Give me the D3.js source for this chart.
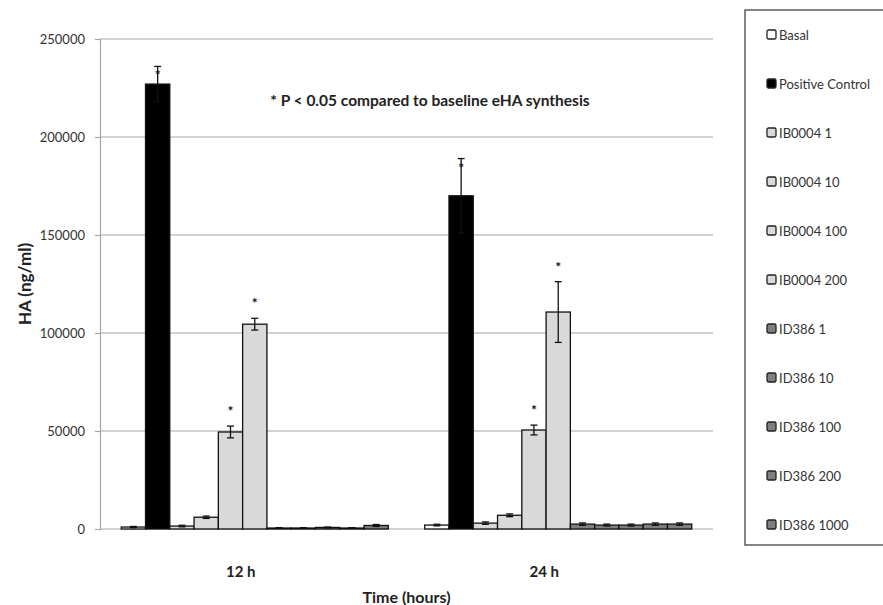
<!DOCTYPE html>
<html>
<head>
<meta charset="utf-8">
<script src="https://cdn.jsdelivr.net/npm/d3@7"></script>
<style>
  body { margin: 0; background: #fff; }
  text { font-family: Lato, "Open Sans", sans-serif; }
</style>
</head>
<body>
<div id="chart"></div>
<script>
// categories and series
var times = ["12 h", "24 h"];
var series = ["Basal", "Positive Control", "IB0004 1", "IB0004 10", "IB0004 100", "IB0004 200",
              "ID386 1", "ID386 10", "ID386 100", "ID386 200", "ID386 1000"];
var fills = ["#ffffff", "#000000", "#d9d9d9", "#d9d9d9", "#d9d9d9", "#d9d9d9",
             "#7f7f7f", "#7f7f7f", "#7f7f7f", "#7f7f7f", "#7f7f7f"];

// HA (ng/ml) values, per series: [12 h, 24 h]
var values12 = [1000, 227000, 1500, 6000, 49500, 104500, 500, 500, 800, 500, 1800];
var values24 = [2000, 170000, 3000, 7000, 50500, 110700, 2500, 2000, 2000, 2500, 2500];
var errors12 = [300, 9000, 400, 600, 3000, 3000, 200, 200, 200, 200, 500];
var errors24 = [400, 19000, 600, 700, 2500, 15500, 600, 500, 500, 600, 600];
// which bars carry a significance star
var stars12 = [false, true, false, false, true, true, false, false, false, false, false];
var stars24 = [false, true, false, false, true, true, false, false, false, false, false];

var yTicks = [0, 50000, 100000, 150000, 200000, 250000];

var width = 883, height = 605;
var margin = {top: 39, right: 170, bottom: 76, left: 100};
var plotW = width - margin.left - margin.right;
var plotH = height - margin.top - margin.bottom;

var svg = d3.select("#chart").append("svg")
  .attr("width", width)
  .attr("height", height);

var g = svg.append("g")
  .attr("transform", "translate(" + margin.left + "," + margin.top + ")");

var y = d3.scaleLinear().domain([0, 250000]).range([plotH, 0]);
var x0 = d3.scaleBand().domain(times).range([0, plotW]).paddingInner(0.12).paddingOuter(0.07);
var x1 = d3.scaleBand().domain(series).range([0, x0.bandwidth()]);

// gridlines
g.append("g").selectAll("line")
  .data(yTicks)
  .enter().append("line")
  .attr("x1", 0)
  .attr("x2", plotW)
  .attr("y1", function(d) { return y(d); })
  .attr("y2", function(d) { return y(d); })
  .style("stroke", "#a6a6a6")
  .style("stroke-width", 1.2);

// y axis
var yAxis = g.append("g")
  .call(d3.axisLeft(y).tickValues(yTicks).tickSize(5).tickPadding(10).tickFormat(d3.format("d")));
yAxis.select(".domain").style("stroke", "#a6a6a6").style("stroke-width", 1.2);
yAxis.selectAll(".tick line").style("stroke", "#a6a6a6").style("stroke-width", 1.2);
yAxis.selectAll(".tick text")
  .style("font-family", "Lato, sans-serif")
  .style("font-size", "13px")
  .attr("fill", "#333");

var rows = times.map(function(t, i) {
  var vals = i == 0 ? values12 : values24;
  var errs = i == 0 ? errors12 : errors24;
  var st = i == 0 ? stars12 : stars24;
  return series.map(function(s, j) {
    return {time: t, series: s, value: vals[j], err: errs[j], star: st[j], fill: fills[j]};
  });
});

var groups = g.selectAll(".grp")
  .data(rows)
  .enter().append("g")
  .attr("class", "grp")
  .attr("transform", function(d, i) { return "translate(" + x0(times[i]) + ",0)"; });

groups.selectAll("rect")
  .data(function(d) { return d; })
  .enter().append("rect")
  .attr("x", function(d) { return x1(d.series); })
  .attr("y", function(d) { return y(d.value); })
  .attr("width", x1.bandwidth())
  .attr("height", function(d) { return plotH - y(d.value); })
  .attr("fill", function(d) { return d.fill; })
  .style("stroke", "#111")
  .style("stroke-width", 1.3);

// error bars
var eb = groups.selectAll(".err")
  .data(function(d) { return d; })
  .enter().append("g")
  .attr("class", "err");

eb.append("line")
  .attr("x1", function(d) { return x1(d.series) + x1.bandwidth() / 2; })
  .attr("x2", function(d) { return x1(d.series) + x1.bandwidth() / 2; })
  .attr("y1", function(d) { return y(d.value - d.err); })
  .attr("y2", function(d) { return y(d.value + d.err); })
  .style("stroke", "#111")
  .style("stroke-width", 1.3);

[-1, 1].forEach(function(s) {
  eb.append("line")
    .attr("x1", function(d) { return x1(d.series) + x1.bandwidth() / 2 - 3.5; })
    .attr("x2", function(d) { return x1(d.series) + x1.bandwidth() / 2 + 3.5; })
    .attr("y1", function(d) { return y(d.value + s * d.err); })
    .attr("y2", function(d) { return y(d.value + s * d.err); })
    .style("stroke", "#111")
    .style("stroke-width", 1.3);
});

// stars
groups.selectAll(".star")
  .data(function(d) { return d.filter(function(e) { return e.star; }); })
  .enter().append("text")
  .attr("class", "star")
  .attr("x", function(d) { return x1(d.series) + x1.bandwidth() / 2; })
  .attr("y", function(d) { return y(d.value + d.err) - (d.series == "Positive Control" ? -14 : 10); })
  .attr("text-anchor", "middle")
  .style("font-size", "14px")
  .style("font-weight", "bold")
  .attr("fill", "#111")
  .text("*");

// category labels
g.append("g").selectAll("text")
  .data(times)
  .enter().append("text")
  .attr("x", function(d) { return x0(d) + x0.bandwidth() / 2 - 14; })
  .attr("y", plotH + 48)
  .attr("text-anchor", "middle")
  .style("font-size", "15px")
  .style("font-weight", "bold")
  .attr("fill", "#222")
  .text(function(d) { return d; });

// axis titles
svg.append("text")
  .attr("x", margin.left + plotW / 2)
  .attr("y", 603)
  .attr("text-anchor", "middle")
  .style("font-size", "16px")
  .style("font-weight", "bold")
  .attr("fill", "#222")
  .text("Time (hours)");

svg.append("text")
  .attr("transform", "translate(31," + (margin.top + plotH / 2) + ") rotate(-90)")
  .attr("text-anchor", "middle")
  .style("font-size", "17px")
  .style("font-weight", "bold")
  .attr("fill", "#222")
  .text("HA (ng/ml)");

// annotation
svg.append("text")
  .attr("x", 430)
  .attr("y", 106)
  .attr("text-anchor", "middle")
  .style("font-size", "15.5px")
  .style("font-weight", "bold")
  .attr("fill", "#222")
  .text("* P < 0.05 compared to baseline eHA synthesis");

// legend
var legend = svg.append("g").attr("transform", "translate(745,10)");
legend.append("rect")
  .attr("x", 0).attr("y", 0)
  .attr("width", 160).attr("height", 535)
  .attr("fill", "#fff")
  .style("stroke", "#444")
  .style("stroke-width", 1.3);

var items = legend.selectAll(".item")
  .data(series)
  .enter().append("g")
  .attr("class", "item")
  .attr("transform", function(d, i) { return "translate(22," + (25 + i * 49) + ")"; });

items.append("rect")
  .attr("x", 0).attr("y", -5)
  .attr("width", 9).attr("height", 9)
  .attr("rx", 1.5)
  .attr("fill", function(d, i) { return fills[i]; })
  .style("stroke", "#222")
  .style("stroke-width", 1.3);

items.append("text")
  .attr("x", 12)
  .attr("y", 4.5)
  .style("font-size", "13px")
  .attr("fill", "#333")
  .text(function(d) { return d; });
</script>
</body>
</html>
